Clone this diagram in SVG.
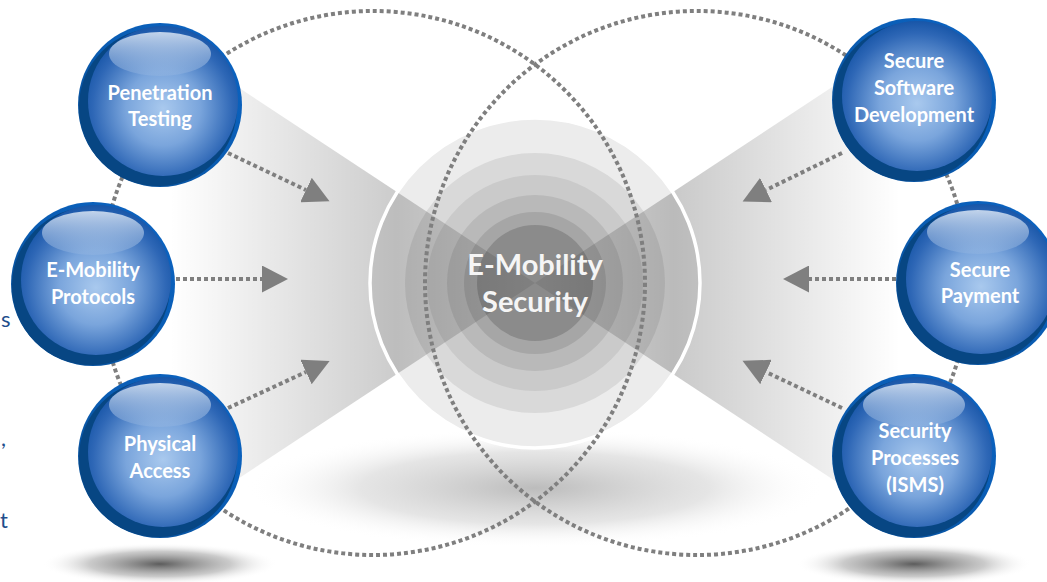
<svg xmlns="http://www.w3.org/2000/svg" xmlns:xlink="http://www.w3.org/1999/xlink" width="1047" height="582" viewBox="0 0 1047 582">
<defs>
<style>
.lbl{font-family:Lato,"Open Sans","Liberation Sans",sans-serif;font-weight:700;font-size:20px;fill:#ffffff;text-anchor:middle}
.ctr{font-family:Lato,"Open Sans","Liberation Sans",sans-serif;font-weight:700;font-size:29px;fill:#f5f5f5;text-anchor:middle}
.frag{font-family:Lato,"Liberation Sans",sans-serif;font-size:22px;fill:#1f4e8c}
.dots{fill:none;stroke:#7f7f7f;stroke-width:4;stroke-dasharray:4 3}
.arr{fill:none;stroke:#7f7f7f;stroke-width:4;stroke-dasharray:4 3;marker-end:url(#head)}
</style>
<marker id="head" markerUnits="userSpaceOnUse" markerWidth="27" markerHeight="27" refX="0" refY="13.5" orient="auto" viewBox="0 0 27 27">
<path d="M0,0 L26,13.5 L0,27 z" fill="#7f7f7f"/>
</marker>
<linearGradient id="rim" x1="0" y1="1" x2="1" y2="0">
<stop offset="0" stop-color="#064a8e"/>
<stop offset="0.5" stop-color="#0a5cb2"/>
<stop offset="1" stop-color="#0b64c4"/>
</linearGradient>
<radialGradient id="body" cx="0.5" cy="0.55" r="0.55">
<stop offset="0" stop-color="#a9c9ee"/>
<stop offset="0.45" stop-color="#7aa5dc"/>
<stop offset="0.85" stop-color="#2e67b6"/>
<stop offset="1" stop-color="#1856a8"/>
</radialGradient>
<linearGradient id="hl" x1="0" y1="0" x2="0" y2="1">
<stop offset="0" stop-color="#d4e1f2" stop-opacity="0.9"/>
<stop offset="1" stop-color="#9dbbe2" stop-opacity="0.3"/>
</linearGradient>
<radialGradient id="shadow">
<stop offset="0" stop-color="#4a4a4a" stop-opacity="0.9"/>
<stop offset="0.6" stop-color="#8a8a8a" stop-opacity="0.45"/>
<stop offset="1" stop-color="#ffffff" stop-opacity="0"/>
</radialGradient>
<radialGradient id="cshadow">
<stop offset="0" stop-color="#8f8f8f" stop-opacity="0.6"/>
<stop offset="0.6" stop-color="#b5b5b5" stop-opacity="0.35"/>
<stop offset="1" stop-color="#ffffff" stop-opacity="0"/>
</radialGradient>
<linearGradient id="wedgeL" gradientUnits="userSpaceOnUse" x1="170" y1="0" x2="535" y2="0">
<stop offset="0" stop-color="#000" stop-opacity="0"/>
<stop offset="0.62" stop-color="#000" stop-opacity="0.2"/>
<stop offset="1" stop-color="#000" stop-opacity="0.08"/>
</linearGradient>
<linearGradient id="wedgeR" gradientUnits="userSpaceOnUse" x1="900" y1="0" x2="535" y2="0">
<stop offset="0" stop-color="#000" stop-opacity="0"/>
<stop offset="0.62" stop-color="#000" stop-opacity="0.21"/>
<stop offset="1" stop-color="#000" stop-opacity="0.08"/>
</linearGradient>
<g id="sphere">
<circle r="82" fill="url(#rim)"/>
<circle cx="-2" cy="2" r="79" fill="#074683"/>
<circle cx="3" cy="-4" r="75" fill="url(#body)"/>
</g>
<ellipse id="gloss" cx="0" cy="-51" rx="51" ry="22" fill="url(#hl)"/>
</defs>

<rect width="1047" height="582" fill="#ffffff"/>

<g id="background">
<ellipse cx="535" cy="488" rx="290" ry="60" fill="url(#cshadow)"/>
<ellipse cx="160" cy="564" rx="118" ry="21" fill="url(#shadow)"/>
<ellipse cx="914" cy="564" rx="118" ry="21" fill="url(#shadow)"/>
</g>

<g id="center">
<circle cx="535" cy="283" r="164" fill="#ececec"/>
<circle cx="535" cy="283" r="130" fill="#d9d9d9"/>
<circle cx="535" cy="283" r="108" fill="#cacaca"/>
<circle cx="535" cy="283" r="88" fill="#b9b9b9"/>
<circle cx="535" cy="283" r="71" fill="#a6a6a6"/>
<circle cx="535" cy="283" r="58" fill="#8b8b8b"/>
</g>

<g id="wedges">
<polygon points="535,283 165,39 165,527" fill="url(#wedgeL)"/>
<polygon points="535,283 905,39 905,527" fill="url(#wedgeR)"/>
</g>

<circle cx="535" cy="283" r="165" fill="none" stroke="#ffffff" stroke-width="3.5"/>

<g id="rings">
<circle class="dots" cx="373" cy="283" r="272"/>
<circle class="dots" cx="697" cy="283" r="272"/>
</g>

<g id="connectors">
<line class="arr" x1="228" y1="153" x2="306" y2="190"/>
<line class="arr" x1="176" y1="279" x2="262" y2="279"/>
<line class="arr" x1="228" y1="408" x2="306" y2="372"/>
<line class="arr" x1="842" y1="153" x2="766" y2="190"/>
<line class="arr" x1="896" y1="279" x2="809" y2="279"/>
<line class="arr" x1="842" y1="408" x2="766" y2="372"/>
</g>

<g id="node-center">
<text class="ctr" x="535" y="275">E-Mobility</text>
<text class="ctr" x="535" y="312">Security</text>
</g>

<g id="node-penetration-testing" transform="translate(160,105)">
<use href="#sphere"/>
<use href="#gloss"/>
<text class="lbl" x="0" y="-5">Penetration</text>
<text class="lbl" x="0" y="21">Testing</text>
</g>

<g id="node-e-mobility-protocols" transform="translate(93,284)">
<use href="#sphere"/>
<use href="#gloss"/>
<text class="lbl" x="0" y="-7">E-Mobility</text>
<text class="lbl" x="0" y="20">Protocols</text>
</g>

<g id="node-physical-access" transform="translate(160,456)">
<use href="#sphere"/>
<use href="#gloss"/>
<text class="lbl" x="0" y="-5">Physical</text>
<text class="lbl" x="0" y="22">Access</text>
</g>

<g id="node-secure-software-development" transform="translate(914,100)">
<use href="#sphere"/>
<text class="lbl" x="0" y="-32">Secure</text>
<text class="lbl" x="0" y="-5">Software</text>
<text class="lbl" x="0" y="22">Development</text>
</g>

<g id="node-secure-payment" transform="translate(978,283)">
<use href="#sphere"/>
<use href="#gloss"/>
<text class="lbl" x="2" y="-6">Secure</text>
<text class="lbl" x="2" y="20">Payment</text>
</g>

<g id="node-security-processes" transform="translate(914,456)">
<use href="#sphere"/>
<use href="#gloss"/>
<text class="lbl" x="1" y="-18">Security</text>
<text class="lbl" x="1" y="9">Processes</text>
<text class="lbl" x="1" y="36">(ISMS)</text>
</g>

<g id="fragments">
<text class="frag" x="1" y="327">s</text>
<text class="frag" x="1" y="446">,</text>
<text class="frag" x="0" y="528">t</text>
</g>
</svg>
